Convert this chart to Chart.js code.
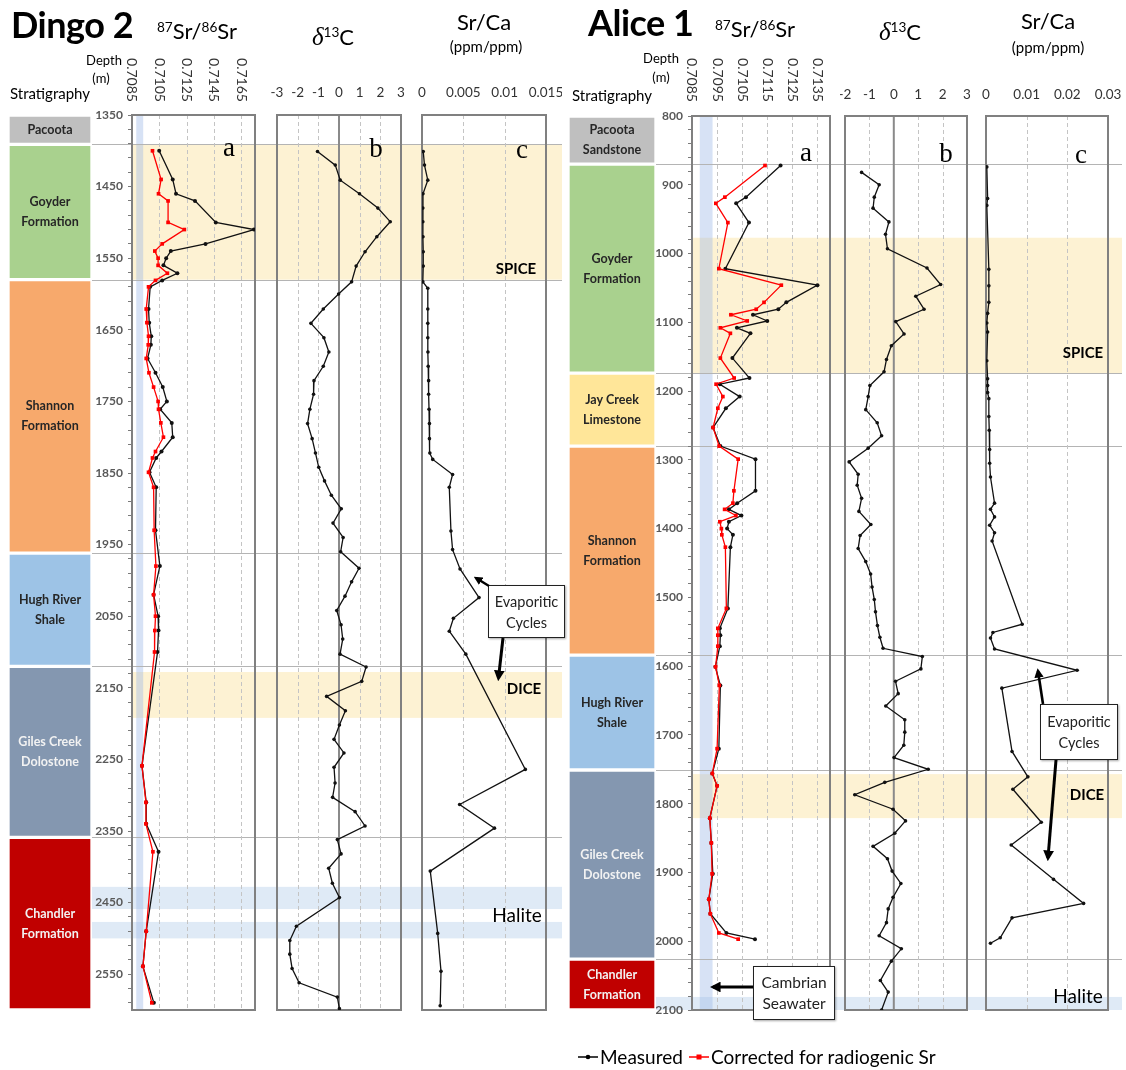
<!DOCTYPE html>
<html><head><meta charset="utf-8">
<script src="https://cdn.jsdelivr.net/npm/chart.js@4.4.1/dist/chart.umd.min.js"></script>
<style>
html,body{margin:0;padding:0;background:#fff;}
#wrap{position:relative;width:1126px;height:1070px;overflow:hidden;font-family:Lato,'Open Sans',sans-serif;color:#000;}
canvas{position:absolute;top:0;}
.t{position:absolute;white-space:nowrap;line-height:1;transform:translate(-50%,-50%);}
.l{position:absolute;white-space:nowrap;line-height:1;transform:translate(0,-50%);}
.box{position:absolute;background:#fff;border:1px solid #222;box-shadow:1px 1px 2px rgba(0,0,0,0.35);text-align:center;font-size:14.5px;line-height:21px;box-sizing:border-box;padding-top:5px;color:#222;}
sup{font-size:0.62em;vertical-align:0.55em;line-height:0;}
</style></head>
<body><div id="wrap">
<canvas id="stratD" width="84" height="1070" style="left:8px"></canvas>
<canvas id="srD" width="174" height="1070" style="left:92px"></canvas>
<canvas id="c13D" width="146" height="1070" style="left:266px"></canvas>
<canvas id="srcaD" width="150" height="1070" style="left:412px"></canvas>
<canvas id="stratA" width="88" height="1070" style="left:568px"></canvas>
<canvas id="srA" width="184" height="1070" style="left:656px"></canvas>
<canvas id="c13A" width="136" height="1070" style="left:840px"></canvas>
<canvas id="srcaA" width="146" height="1070" style="left:976px"></canvas>

<div class="l" style="left:11px;top:24px;font-size:36px;font-weight:bold;letter-spacing:-0.5px">Dingo 2</div>
<div class="t" style="left:197px;top:31px;font-size:22px"><sup>87</sup>Sr/<sup>86</sup>Sr</div>
<div class="t" style="left:333px;top:36px;font-size:22px"><span style="font-family:'Liberation Serif',serif;font-style:italic;font-size:25px">δ</span><sup>13</sup>C</div>
<div class="t" style="left:484px;top:22px;font-size:22px">Sr/Ca</div>
<div class="t" style="left:486px;top:46px;font-size:15px">(ppm/ppm)</div>
<div class="t" style="left:104px;top:60px;font-size:13px">Depth</div>
<div class="t" style="left:101px;top:78px;font-size:13px">(m)</div>
<div class="l" style="left:10px;top:93px;font-size:15px">Stratigraphy</div>

<div class="l" style="left:588px;top:22px;font-size:36px;font-weight:bold;letter-spacing:-0.5px">Alice 1</div>
<div class="t" style="left:755px;top:29px;font-size:22px"><sup>87</sup>Sr/<sup>86</sup>Sr</div>
<div class="t" style="left:900px;top:31px;font-size:22px"><span style="font-family:'Liberation Serif',serif;font-style:italic;font-size:25px">δ</span><sup>13</sup>C</div>
<div class="t" style="left:1048px;top:21px;font-size:22px">Sr/Ca</div>
<div class="t" style="left:1048px;top:47px;font-size:15px">(ppm/ppm)</div>
<div class="t" style="left:661px;top:58px;font-size:13px">Depth</div>
<div class="t" style="left:661px;top:77px;font-size:13px">(m)</div>
<div class="l" style="left:572px;top:95px;font-size:15px">Stratigraphy</div>

<div class="t" style="left:229px;top:147px;font-size:27px;font-family:'Liberation Serif',serif">a</div>
<div class="t" style="left:376px;top:148px;font-size:27px;font-family:'Liberation Serif',serif">b</div>
<div class="t" style="left:522px;top:149px;font-size:27px;font-family:'Liberation Serif',serif">c</div>
<div class="t" style="left:806px;top:152px;font-size:27px;font-family:'Liberation Serif',serif">a</div>
<div class="t" style="left:946px;top:153px;font-size:27px;font-family:'Liberation Serif',serif">b</div>
<div class="t" style="left:1081px;top:154px;font-size:27px;font-family:'Liberation Serif',serif">c</div>

<div class="t" style="left:516px;top:268px;font-size:15px;font-weight:bold">SPICE</div>
<div class="t" style="left:1083px;top:352px;font-size:15px;font-weight:bold">SPICE</div>
<div class="t" style="left:524px;top:688px;font-size:15px;font-weight:bold">DICE</div>
<div class="t" style="left:1087px;top:794px;font-size:15px;font-weight:bold">DICE</div>
<div class="t" style="left:517px;top:914px;font-size:19px">Halite</div>
<div class="t" style="left:1078px;top:995px;font-size:19px">Halite</div>

<div class="box" style="left:488px;top:585px;width:77px;height:53px">Evaporitic<br>Cycles</div>
<div class="box" style="left:1040px;top:704px;width:78px;height:56px;padding-top:6px">Evaporitic<br>Cycles</div>
<div class="box" style="left:753px;top:966px;width:82px;height:54px;font-size:15.5px">Cambrian<br>Seawater</div>

<div class="l" style="left:600px;top:1056px;font-size:19px">Measured</div>
<div class="l" style="left:711px;top:1056px;font-size:19px">Corrected for radiogenic Sr</div>

<svg width="1126" height="1070" style="position:absolute;left:0;top:0;pointer-events:none">
<defs><marker id="ah" viewBox="0 0 10 10" refX="7" refY="5" markerWidth="3.6" markerHeight="3.6" orient="auto"><path d="M0,0L10,5L0,10z" fill="#000"/></marker></defs>
<line x1="489" y1="586" x2="476" y2="578" stroke="#000" stroke-width="2.4" marker-end="url(#ah)"/>
<line x1="503" y1="638" x2="498.5" y2="678" stroke="#000" stroke-width="3" marker-end="url(#ah)"/>
<line x1="1043" y1="704" x2="1038" y2="671" stroke="#000" stroke-width="2.6" marker-end="url(#ah)"/>
<line x1="1056" y1="760" x2="1048" y2="858" stroke="#000" stroke-width="3" marker-end="url(#ah)"/>
<line x1="753" y1="987" x2="713" y2="987" stroke="#000" stroke-width="3" marker-end="url(#ah)"/>
<line x1="578" y1="1057" x2="598" y2="1057" stroke="#000" stroke-width="1.5"/>
<circle cx="588" cy="1057" r="2.3" fill="#000"/>
<line x1="689" y1="1057" x2="709" y2="1057" stroke="#ff0000" stroke-width="1.5"/>
<rect x="696.5" y="1054.5" width="5" height="5" fill="#ff0000"/>
</svg>
</div>
<script>
// ---------------- DATA ----------------
// Dingo 2 stratigraphy (depth m)
const dingoFormNames = [['Pacoota'],['Goyder','Formation'],['Shannon','Formation'],['Hugh River','Shale'],['Giles Creek','Dolostone'],['Chandler','Formation']];
const dingoFormTop  = [1350,1391,1580,1962,2120,2359];
const dingoFormBase = [1391,1580,1962,2120,2359,2600];
// Alice 1 stratigraphy
const aliceFormNames = [['Pacoota','Sandstone'],['Goyder','Formation'],['Jay Creek','Limestone'],['Shannon','Formation'],['Hugh River','Shale'],['Giles Creek','Dolostone'],['Chandler','Formation']];
const aliceFormTop  = [800,870,1174,1280,1584,1751,2026];
const aliceFormBase = [870,1174,1280,1584,1751,2026,2100];

// event bands (depth ranges)
const dingoSpice = [1391,1580];
const dingoDice = [2128,2192];
const dingoHalite = [[2428,2459],[2477,2500]];
const aliceSpice = [977,1174];
const aliceDice = [1757,1821];
const aliceHalite = [[2081,2100]];
const cambrianSeawater = [0.70881,0.70932];

// tick labels
const dingoDepthLabels = [1350,1450,1550,1650,1750,1850,1950,2050,2150,2250,2350,2450,2550];
const aliceDepthLabels = [800,900,1000,1100,1200,1300,1400,1500,1600,1700,1800,1900,2000,2100];
const dingoSrTicks = [0.7085,0.7105,0.7125,0.7145,0.7165];
const dingoSrTickText = ['0.7085','0.7105','0.7125','0.7145','0.7165'];
const aliceSrTicks = [0.7085,0.7095,0.7105,0.7115,0.7125,0.7135];
const aliceSrTickText = ['0.7085','0.7095','0.7105','0.7115','0.7125','0.7135'];
const dingoC13Ticks = [-3,-2,-1,0,1,2,3];
const aliceC13Ticks = [-2,-1,0,1,2,3];
const dingoSrCaTicks = [0,0.005,0.01,0.015];
const dingoSrCaTickText = ['0','0.005','0.01','0.015'];
const aliceSrCaTicks = [0,0.01,0.02,0.03];
const aliceSrCaTickText = ['0','0.01','0.02','0.03'];

// Dingo 2 87Sr/86Sr
const dingoSrDepth = [1400,1440,1460,1470,1500,1510,1530,1540,1550,1560,1571,1581,1590,1621,1640,1659,1671,1690,1710,1730,1750,1761,1780,1800,1820,1829,1849,1870,1930,1980,2020,2050,2070,2100,2259,2310,2340,2379,2490,2539,2590];
const dingoSrMeasured = [0.71049,0.71148,0.71172,0.71311,0.71463,0.71742,0.71388,0.71134,0.71100,0.71080,0.71182,0.71071,0.70983,0.70971,0.70976,0.70991,0.70988,0.70964,0.71022,0.71075,0.71105,0.71056,0.71141,0.71148,0.71066,0.71027,0.70978,0.71027,0.71022,0.71054,0.71008,0.71041,0.71044,0.71037,0.70923,0.70954,0.70954,0.71044,0.70954,0.70930,0.71010];
const dingoSrCorrected = [0.71000,0.71063,0.71044,0.71114,0.71114,0.71233,0.71071,0.71017,0.71041,0.71041,0.71109,0.71022,0.70971,0.70954,0.70959,0.70971,0.70969,0.70954,0.70974,0.71008,0.71041,0.71044,0.71061,0.71080,0.71022,0.71000,0.70971,0.71008,0.71012,0.71025,0.71008,0.71022,0.71017,0.71015,0.70923,0.70952,0.70952,0.71003,0.70954,0.70930,0.70995];
// Dingo 2 d13C
const dingoC13Depth = [1401,1420,1441,1460,1480,1499,1520,1541,1561,1583,1600,1621,1641,1661,1681,1701,1721,1740,1761,1781,1802,1822,1842,1861,1881,1900,1920,1940,1960,1983,2002,2022,2042,2062,2082,2103,2121,2141,2162,2182,2202,2222,2241,2261,2283,2303,2323,2343,2362,2382,2402,2423,2443,2483,2503,2522,2542,2562,2582,2598];
const dingoC13 = [-1.04,-0.18,0.06,0.99,1.88,2.48,1.83,1.26,0.83,0.61,-0.02,-0.76,-1.36,-0.73,-0.49,-0.76,-1.21,-1.23,-1.41,-1.52,-1.30,-1.14,-0.98,-0.70,-0.37,0.11,-0.29,0.20,0.08,0.97,0.61,0.29,-0.11,0.10,0.18,0.05,1.31,1.10,-0.60,0.31,0.02,-0.24,0.24,-0.24,-0.19,-0.31,0.78,1.26,-0.08,0.10,-0.50,-0.32,0.02,-2.06,-2.38,-2.38,-2.27,-1.93,-0.08,0.02];
// Dingo 2 Sr/Ca
const dingoSrCaDepth = [1401,1420,1441,1460,1480,1499,1520,1541,1561,1583,1592,1621,1641,1661,1681,1701,1721,1740,1761,1781,1802,1822,1831,1852,1870,1931,1957,1984,2024,2053,2071,2103,2264,2313,2346,2406,2493,2546,2594];
const dingoSrCa = [0.00015,0.0003,0.0007,0.00012,0.0001,0.0001,0.00012,0.00015,0.00015,0.0001,0.0007,0.0007,0.0007,0.0007,0.00072,0.00075,0.0008,0.0008,0.00085,0.0009,0.0009,0.00095,0.0013,0.0037,0.0033,0.0035,0.0037,0.0046,0.0069,0.0038,0.0033,0.0053,0.0125,0.00455,0.00877,0.0010,0.0019,0.0023,0.0022];

// Alice 1 87Sr/86Sr
const aliceSrDepth = [872,918,927,955,1022,1046,1071,1081,1089,1098,1108,1116,1152,1181,1190,1208,1225,1253,1280,1299,1345,1363,1372,1381,1390,1400,1409,1427,1516,1545,1555,1571,1601,1628,1720,1756,1774,1821,1857,1902,1939,1960,1988,1997];
const aliceSrMeasured = [0.71203,0.71065,0.71026,0.71077,0.70983,0.71350,0.71226,0.71194,0.71093,0.71150,0.71029,0.71083,0.71011,0.71079,0.70961,0.71040,0.70985,0.70934,0.70963,0.71103,0.71103,0.71030,0.70997,0.71047,0.70997,0.70990,0.71013,0.71003,0.70993,0.70961,0.70963,0.70961,0.70943,0.70963,0.70957,0.70931,0.70950,0.70921,0.70927,0.70933,0.70917,0.70923,0.70987,0.71101];
const aliceSrCorrected = [0.71141,0.70981,0.70945,0.70993,0.70957,0.71206,0.71137,0.71106,0.71005,0.71070,0.70963,0.71003,0.70963,0.71018,0.70946,0.70973,0.70953,0.70934,0.70958,0.71034,0.71017,0.71013,0.70980,0.71025,0.70961,0.70967,0.70969,0.70983,0.70987,0.70953,0.70953,0.70953,0.70944,0.70959,0.70950,0.70931,0.70950,0.70921,0.70927,0.70930,0.70917,0.70923,0.70957,0.71034];
// Alice 1 d13C
const aliceC13Depth = [882,900,918,934,954,972,993,1021,1045,1062,1081,1099,1117,1134,1154,1172,1192,1208,1227,1246,1265,1283,1303,1321,1337,1356,1375,1394,1410,1429,1448,1466,1485,1503,1521,1541,1558,1574,1586,1604,1622,1640,1658,1678,1696,1715,1733,1750,1769,1787,1808,1825,1843,1862,1880,1898,1916,1936,1953,1973,1992,2011,2029,2057,2074,2100];
const aliceC13 = [-1.32,-0.60,-0.80,-0.85,-0.20,-0.34,-0.26,1.36,1.92,0.90,1.24,0.08,0.42,-0.10,-0.30,-0.40,-0.98,-1.05,-1.15,-0.68,-0.50,-1.05,-1.83,-1.46,-1.50,-1.32,-1.43,-0.94,-1.38,-1.46,-1.15,-0.95,-0.89,-0.80,-0.75,-0.67,-0.57,-0.44,1.17,1.11,0.07,0.18,-0.33,0.45,0.45,0.41,0.01,1.41,-0.37,-1.60,-0.03,0.48,0.04,-0.85,-0.26,-0.07,0.29,-0.03,-0.23,-0.30,-0.60,0.31,-0.10,-0.55,-0.23,-0.50];
// Alice 1 Sr/Ca
const aliceSrCaDepth = [874,920,930,1023,1047,1071,1087,1101,1114,1156,1182,1192,1202,1211,1237,1257,1285,1305,1325,1363,1372,1383,1395,1406,1418,1539,1551,1559,1575,1606,1632,1724,1761,1779,1827,1860,1910,1945,1966,1995,2003];
const aliceSrCa = [0.0002,0.0004,0.0002,0.0007,0.0007,0.0007,0.0004,0.0002,0.0004,0.0002,0.0004,0.0004,0.0004,0.0007,0.0007,0.0008,0.0009,0.0009,0.0011,0.0021,0.0011,0.0021,0.0009,0.0021,0.0015,0.0089,0.0017,0.0011,0.0021,0.0224,0.0039,0.0064,0.0103,0.0066,0.0136,0.0062,0.0166,0.0240,0.0064,0.0035,0.0011];

// ---------------- STYLE / HELPERS ----------------
const FONT = "Lato, 'Open Sans', sans-serif";
const H = 1070;
const formColors = {
  'Pacoota':'#BFBFBF','Goyder':'#A9D18E','Jay Creek':'#FFE699','Shannon':'#F7A96C',
  'Hugh River':'#9DC3E6','Giles Creek':'#8497B0','Chandler':'#C00000'
};
const whiteText = {'Giles Creek':true,'Chandler':true};
const BAND = '#FDF2D3', HALITE = '#DFEAF6';

function pts(depths, vals){ return depths.map((d,i)=>({x:vals[i], y:d})); }

function decor(cfg){
  return {
    id:'decor',
    beforeDraw(chart){
      const {ctx, chartArea:a} = chart; const x = chart.scales.x, y = chart.scales.y; const W = chart.width;
      ctx.save();
      (cfg.bands||[]).forEach(b=>{
        const y0 = y.getPixelForValue(b.r[0]), y1 = y.getPixelForValue(b.r[1]);
        const x0 = b.area ? a.left : 0;
        ctx.fillStyle = b.c; ctx.fillRect(x0, y0, W-x0, y1-y0);
      });
      if (cfg.vband){
        const x0 = x.getPixelForValue(cfg.vband[0]), x1 = x.getPixelForValue(cfg.vband[1]);
        ctx.fillStyle = 'rgba(160,185,230,0.42)'; ctx.fillRect(x0, a.top, x1-x0, a.bottom-a.top);
      }
      ctx.strokeStyle = '#b4b4b4'; ctx.lineWidth = 1;
      (cfg.lines||[]).forEach(d=>{
        const yy = Math.round(y.getPixelForValue(d))+0.5;
        ctx.beginPath(); ctx.moveTo(0,yy); ctx.lineTo(W,yy); ctx.stroke();
      });
      ctx.restore();
    },
    beforeDatasetsDraw(chart){
      const {ctx, chartArea:a} = chart; const x = chart.scales.x;
      ctx.save();
      ctx.setLineDash([4,3]); ctx.strokeStyle = '#c4c4c4'; ctx.lineWidth = 1;
      (cfg.dashed||[]).forEach(v=>{
        const xx = Math.round(x.getPixelForValue(v))+0.5;
        ctx.beginPath(); ctx.moveTo(xx,a.top); ctx.lineTo(xx,a.bottom); ctx.stroke();
      });
      ctx.setLineDash([]);
      ctx.strokeStyle = '#8a8a8a'; ctx.lineWidth = 2;
      (cfg.solid||[]).forEach(v=>{
        const xx = x.getPixelForValue(v);
        ctx.beginPath(); ctx.moveTo(xx,a.top); ctx.lineTo(xx,a.bottom); ctx.stroke();
      });
      ctx.strokeStyle = '#808080'; ctx.lineWidth = 2;
      ctx.strokeRect(a.left, a.top, a.right-a.left, a.bottom-a.top);
      ctx.fillStyle = '#333'; ctx.textAlign = 'center'; ctx.textBaseline = 'middle';
      ctx.font = (cfg.rotate ? '14px ' : '13.5px ') + FONT;
      cfg.ticks.forEach((v,i)=>{
        const xx = x.getPixelForValue(v);
        if (cfg.rotate){
          ctx.save(); ctx.translate(xx, cfg.labelY); ctx.rotate(Math.PI/2);
          ctx.fillText(cfg.text[i], 0, 0); ctx.restore();
        } else {
          ctx.fillText(cfg.text[i], xx, cfg.labelY);
        }
      });
      ctx.restore();
    }
  };
}

function bandsFor(spice, dice, halite, srChart){
  const b = [{r:spice,c:BAND,area:srChart},{r:dice,c:BAND,area:srChart}];
  halite.forEach(h=>b.push({r:h,c:HALITE,area:false}));
  return b;
}

function lineDS(data, color, style, radius){
  return {data, showLine:true, borderColor:color, backgroundColor:color, borderWidth:1.3,
    pointRadius:radius, pointStyle:style, pointBorderWidth:0, pointBackgroundColor:color, tension:0};
}

function stratChart(id, names, tops, bases, yMin, yMax, top, bottom){
  const datasets = names.map((n,i)=>({
    data:[[tops[i], bases[i]]], backgroundColor:formColors[n[0]], borderColor:'#ffffff',
    borderWidth:2, borderSkipped:false, grouped:false, barPercentage:1, categoryPercentage:1
  }));
  new Chart(document.getElementById(id), {
    type:'bar',
    data:{labels:['s'], datasets},
    options:{responsive:false, animation:false, devicePixelRatio:1, events:[],
      layout:{padding:{left:0,right:0,top:top,bottom:H-bottom}},
      plugins:{legend:{display:false}, tooltip:{enabled:false}},
      scales:{x:{display:false}, y:{display:false, reverse:true, min:yMin, max:yMax}}
    },
    plugins:[{
      id:'stratLabels',
      afterDatasetsDraw(chart){
        const ctx = chart.ctx; ctx.save();
        ctx.font = 'bold 12.5px ' + FONT; ctx.textAlign='center'; ctx.textBaseline='middle';
        names.forEach((n,i)=>{
          const el = chart.getDatasetMeta(i).data[0];
          const cy = (el.y + el.base)/2;
          ctx.fillStyle = whiteText[n[0]] ? '#f2f2f2' : '#262626';
          n.forEach((line,j)=> ctx.fillText(line, el.x, cy + (j-(n.length-1)/2)*20));
        });
        ctx.restore();
      }
    }]
  });
}

function depthTicks(min, max){ const t=[]; for(let v=min; v<=max+0.001; v+=20) t.push({value:v}); return t; }

function srChart(id, depth, meas, corr, xMin, xMax, yMin, yMax, top, bottom, yW, padR, labels, cfg){
  new Chart(document.getElementById(id), {
    type:'scatter',
    data:{datasets:[ lineDS(pts(depth,corr), '#ff0000', 'rect', 2.6), lineDS(pts(depth,meas), '#111111', 'circle', 2) ]},
    options:{responsive:false, animation:false, devicePixelRatio:1, events:[],
      layout:{padding:{left:0,right:padR,top:top,bottom:H-bottom}},
      plugins:{legend:{display:false}, tooltip:{enabled:false}},
      scales:{
        x:{type:'linear', display:false, min:xMin, max:xMax},
        y:{type:'linear', reverse:true, min:yMin, max:yMax, position:'left',
          afterBuildTicks:(s)=>{ s.ticks = depthTicks(yMin, yMax); },
          afterFit:(s)=>{ s.width = yW; },
          ticks:{autoSkip:false, padding:5, color:'#595959', font:{family:FONT, size:12, weight:'bold'},
            callback:(v)=> labels.includes(v) ? String(v) : ''},
          grid:{drawOnChartArea:false, drawTicks:true, tickLength:4, color:'#7a7a7a', lineWidth:1},
          border:{display:true, color:'#808080', width:2}
        }
      }
    },
    plugins:[decor(cfg)]
  });
}

function simpleChart(id, depth, vals, xMin, xMax, yMin, yMax, top, bottom, padL, padR, cfg){
  new Chart(document.getElementById(id), {
    type:'scatter',
    data:{datasets:[ lineDS(pts(depth,vals), '#111111', 'circle', 1.8) ]},
    options:{responsive:false, animation:false, devicePixelRatio:1, events:[],
      layout:{padding:{left:padL,right:padR,top:top,bottom:H-bottom}},
      plugins:{legend:{display:false}, tooltip:{enabled:false}},
      scales:{
        x:{type:'linear', display:false, min:xMin, max:xMax},
        y:{type:'linear', display:false, reverse:true, min:yMin, max:yMax}
      }
    },
    plugins:[decor(cfg)]
  });
}

// ---------------- DINGO 2 ----------------
const dTop = 115, dBot = 1010;
const dLines = dingoFormBase.slice(0,-1);
stratChart('stratD', dingoFormNames, dingoFormTop, dingoFormBase, 1350, 2600, dTop, dBot);
srChart('srD', dingoSrDepth, dingoSrMeasured, dingoSrCorrected, 0.7085, 0.7175, 1350, 2600, dTop, dBot, 40, 11, dingoDepthLabels,
  {bands:bandsFor(dingoSpice, dingoDice, dingoHalite, true), vband:cambrianSeawater, lines:dLines,
   dashed:[0.7105,0.7125,0.7145,0.7165], ticks:dingoSrTicks, text:dingoSrTickText, rotate:true, labelY:80});
simpleChart('c13D', dingoC13Depth, dingoC13, -3, 3, 1350, 2600, dTop, dBot, 11, 11,
  {bands:bandsFor(dingoSpice, dingoDice, dingoHalite, false), lines:dLines,
   dashed:[-2,-1,1,2], solid:[0], ticks:dingoC13Ticks, text:dingoC13Ticks.map(String), labelY:93});
simpleChart('srcaD', dingoSrCaDepth, dingoSrCa, 0, 0.015, 1350, 2600, dTop, dBot, 10, 16,
  {bands:bandsFor(dingoSpice, dingoDice, dingoHalite, false), lines:dLines,
   dashed:[0.005,0.01], ticks:dingoSrCaTicks, text:dingoSrCaTickText, labelY:93});

// ---------------- ALICE 1 ----------------
const aTop = 116, aBot = 1010;
const aLines = aliceFormBase.slice(0,-1);
stratChart('stratA', aliceFormNames, aliceFormTop, aliceFormBase, 800, 2100, aTop, aBot);
srChart('srA', aliceSrDepth, aliceSrMeasured, aliceSrCorrected, 0.7085, 0.7140, 800, 2100, aTop, aBot, 36, 10, aliceDepthLabels,
  {bands:bandsFor(aliceSpice, aliceDice, aliceHalite, true), vband:cambrianSeawater, lines:aLines,
   dashed:[0.7095,0.7105,0.7115,0.7125,0.7135], ticks:aliceSrTicks, text:aliceSrTickText, rotate:true, labelY:80});
simpleChart('c13A', aliceC13Depth, aliceC13, -2, 3, 800, 2100, aTop, aBot, 5, 9,
  {bands:bandsFor(aliceSpice, aliceDice, aliceHalite, false), lines:aLines,
   dashed:[-1,1,2], solid:[0], ticks:aliceC13Ticks, text:aliceC13Ticks.map(String), labelY:95});
simpleChart('srcaA', aliceSrCaDepth, aliceSrCa, 0, 0.03, 800, 2100, aTop, aBot, 10, 14,
  {bands:bandsFor(aliceSpice, aliceDice, aliceHalite, false), lines:aLines,
   dashed:[0.01,0.02], ticks:aliceSrCaTicks, text:aliceSrCaTickText, labelY:95});
</script>
</body></html>
